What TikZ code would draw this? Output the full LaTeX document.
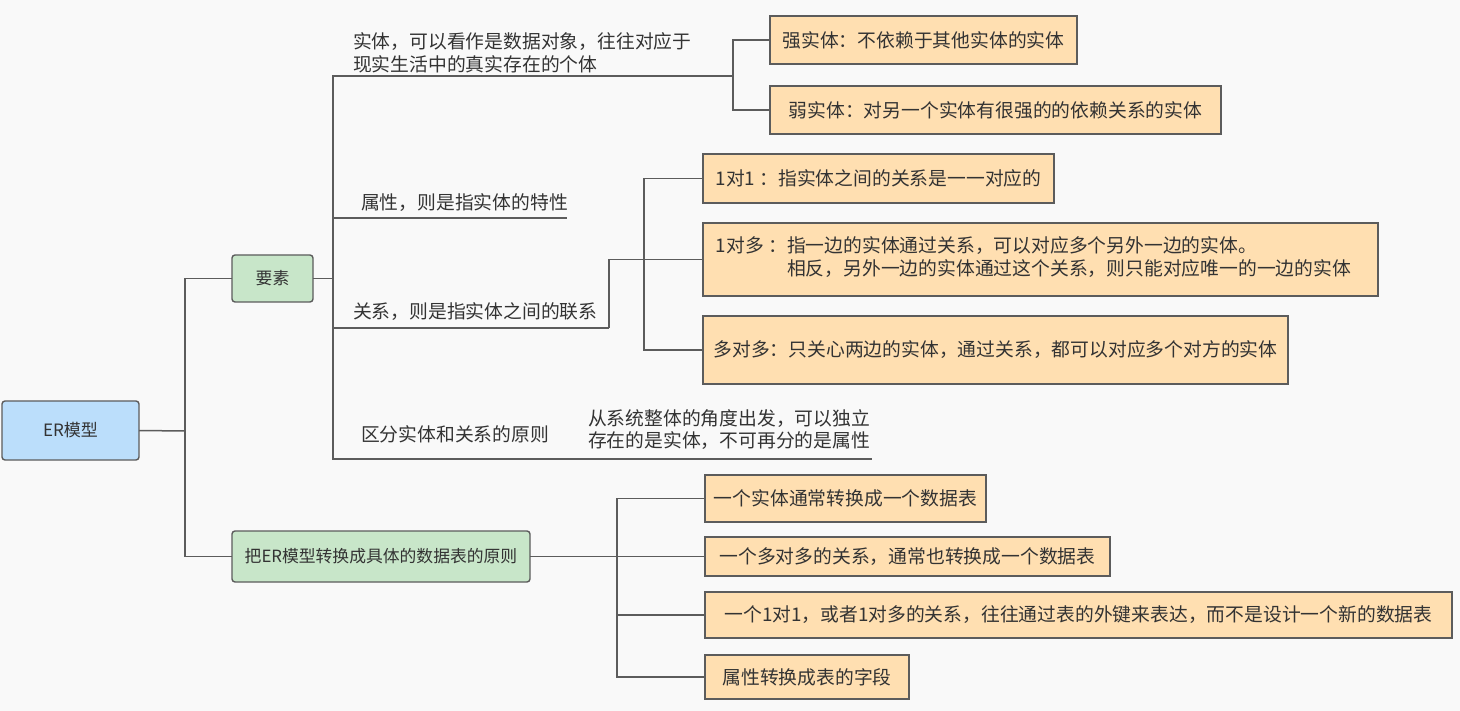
\documentclass[tikz,border=0pt]{standalone}
\usepackage{fontspec}
\setmainfont{Noto Sans CJK SC}
\definecolor{bgc}{HTML}{F9F9F9}
\definecolor{linec}{HTML}{5C5C5C}
\definecolor{txtc}{HTML}{333333}
\definecolor{orangef}{HTML}{FFDFB1}
\definecolor{greenf}{HTML}{C8E6C9}
\definecolor{bluef}{HTML}{BBDEFB}
\begin{document}
\begin{tikzpicture}[x=1pt,y=-1pt,
  every node/.style={text=txtc, font=\fontsize{18.8}{22.5}\selectfont, inner sep=0pt, outer sep=0pt},
  conn/.style={draw=linec, line width=1.5pt},
  obox/.style={draw=linec, line width=1.4pt, fill=orangef},
  gbox/.style={draw=linec, line width=1.4pt, fill=greenf, rounded corners=3pt, font=\fontsize{16.8}{20}\selectfont},
  bbox/.style={draw=linec, line width=1.4pt, fill=bluef, rounded corners=3pt, font=\fontsize{17}{20}\selectfont},
  lbl/.style={anchor=west, align=left}
]
\fill[bgc] (0,0) rectangle (1460,711);
\useasboundingbox (0,0) rectangle (1460,711);

% boxes
\node[bbox, minimum width=137pt, minimum height=59pt] (root) at (70.5,430.5) {ER模型};
\node[gbox, minimum width=81pt, minimum height=47pt] (yaosu) at (272.5,278.5) {要素};
\node[gbox, minimum width=298pt, minimum height=51pt] (ba) at (381,556.5) {把ER模型转换成具体的数据表的原则};

\node[obox, minimum width=307pt, minimum height=48pt] (qiang) at (923.5,40) {强实体：不依赖于其他实体的实体};
\node[obox, minimum width=451pt, minimum height=48pt] (ruo) at (995.5,110) {弱实体：对另一个实体有很强的的依赖关系的实体};
\node[obox, minimum width=351pt, minimum height=49pt] (one1) at (878.5,178.5) {1对1 ：指实体之间的关系是一一对应的};
\node[obox, minimum width=675pt, minimum height=73pt] (onen) at (1040.5,259.5)
  {\begin{tabular}{@{}l@{}l@{\hspace{14pt}}}1对多 ：&指一边的实体通过关系，可以对应多个另外一边的实体。\\ &相反，另外一边的实体通过这个关系，则只能对应唯一的一边的实体\end{tabular}};
\node[obox, minimum width=585pt, minimum height=68pt] (nn) at (995.5,350) {多对多：只关心两边的实体，通过关系，都可以对应多个对方的实体};

\node[obox, minimum width=281pt, minimum height=47pt] (b1) at (845.5,498.5) {一个实体通常转换成一个数据表};
\node[obox, minimum width=405pt, minimum height=39pt] (b2) at (907.5,556.5) {一个多对多的关系，通常也转换成一个数据表};
\node[obox, minimum width=747pt, minimum height=46pt] (b3) at (1078.5,615) {一个1对1，或者1对多的关系，往往通过表的外键来表达，而不是设计一个新的数据表};
\node[obox, minimum width=204pt, minimum height=44pt] (b4) at (807,677) {属性转换成表的字段};

% labels
\node[lbl] (t1) at (353,53) {实体，可以看作是数据对象，往往对应于\\现实生活中的真实存在的个体};
\node[lbl] (t2) at (361,203) {属性，则是指实体的特性};
\node[lbl] (t3) at (353,312) {关系，则是指实体之间的联系};
\node[lbl] (t4) at (361,434) {区分实体和关系的原则};
\node[lbl] (t5) at (588,429.5) {从系统整体的角度出发，可以独立\\存在的是实体，不可再分的是属性};

% junction coordinates
\coordinate (j0) at (185,431);
\coordinate (j1) at (333,278.5);
\coordinate (u1a) at (333,76);   \coordinate (u1b) at (733,76);
\coordinate (u2a) at (333,218);  \coordinate (u2b) at (567,218);
\coordinate (u3a) at (333,328);  \coordinate (u3b) at (609,328);
\coordinate (u4a) at (333,459);  \coordinate (u4b) at (872,459);
\coordinate (j3) at (644,0);
\coordinate (j4) at (617,0);

% connectors
\draw[conn] (root.east) -- (j0);
\draw[conn] (yaosu.west) -- (yaosu.west -| j0) -- (ba.west -| j0) -- (ba.west);
\draw[conn] (yaosu.east) -- (j1);
\draw[conn] (u1b) -- (u1a) -- (u4a) -- (u4b);
\draw[conn] (u2a) -- (u2b);
\draw[conn] (u3a) -- (u3b);
\draw[conn] (qiang.west) -- (qiang.west -| u1b) -- (ruo.west -| u1b) -- (ruo.west);
\draw[conn] (u3b) -- (u3b |- onen.west) -- (onen.west);
\draw[conn] (one1.west) -- (one1.west -| j3) -- (nn.west -| j3) -- (nn.west);
\draw[conn] (ba.east) -- (b2.west);
\draw[conn] (b1.west) -- (b1.west -| j4) -- (b4.west -| j4) -- (b4.west);
\draw[conn] (b3.west) -- (b3.west -| j4);
\end{tikzpicture}
\end{document}
